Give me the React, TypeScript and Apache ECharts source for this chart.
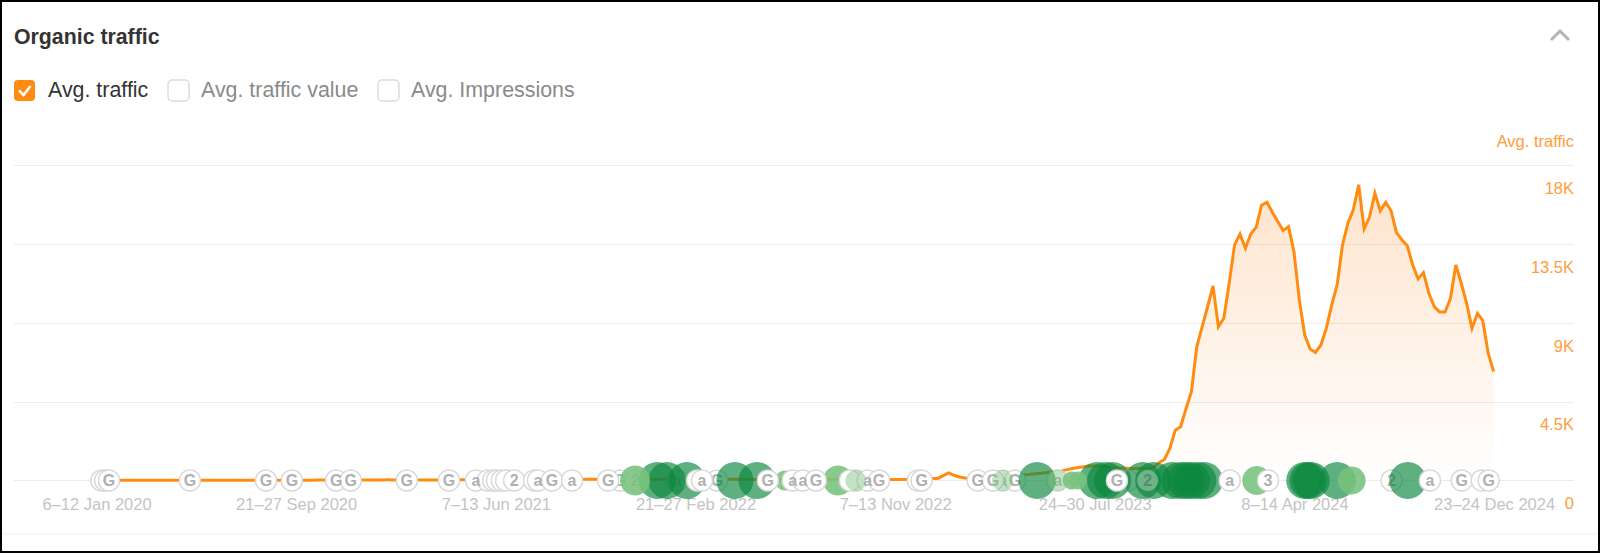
import React, { useEffect, useRef } from "react";
import * as echarts from "echarts";

const FONT = '"Liberation Sans", Arial, sans-serif';
const ORANGE = "#FF8C11";

// Weekly average traffic, week 0 = 6-12 Jan 2020
const traffic2020 = [
  0, 5, 8, 10, 10, 10, 12, 12, 10, 10, 12, 12, 12, 14, 14, 12, 12, 14, 14, 14,
  15, 15, 14, 14, 15, 16, 16, 15, 15, 16, 16, 16, 18, 18, 18, 18, 18, 20, 20, 20,
  20, 22, 22, 22, 20, 20, 22, 22, 24, 24, 26, 26, 30, 34, 36, 34, 30, 28, 26, 28,
];
const traffic2021 = [
  28, 30, 30, 32, 32, 34, 34, 34, 36, 36, 38, 38, 38, 40, 40, 42, 42, 44, 44, 46,
  46, 48, 50, 52, 56, 60, 62, 62, 64, 66, 66, 68, 70, 72, 74, 78, 80, 82, 80, 78,
  76, 74, 72, 74, 76, 78, 80, 78, 74, 70, 66, 62, 60, 60, 62,
];
const traffic2022 = [
  64, 64, 66, 68, 68, 66, 64, 62, 60, 60, 60, 62, 64, 66, 68, 70, 68, 66, 64, 62,
  60, 60, 62, 64, 66, 68, 68, 70, 70, 68, 66, 64, 62, 60, 60, 62, 64, 66, 80, 95,
  110, 120, 280, 440, 300, 200, 140, 130, 130, 140, 140, 150, 170, 190, 220, 250,
];
const traffic2023 = [
  300, 330, 350, 380, 410, 440, 490, 530, 550, 620, 690, 745, 780, 823, 830, 820, 800, 770, 750, 700,
  700, 690, 690, 700, 720, 760, 1010, 1200, 1830, 2880, 3070, 4100, 5070,
];
const trafficPeak1 = [
  7650, 8790, 9935, 11120, 8790, 9270, 11270, 13465, 14090, 13270, 14090, 14470, 15730, 15900, 15330, 14800, 14280, 14510, 13080, 10320,
  8315, 7515, 7320, 7745, 8690, 10030, 11180, 13465, 14700, 15470, 16900,
];
const trafficPeak2 = [
  14380, 15040, 16420, 15410, 15900, 15410, 14170, 13750, 13410, 12320, 11520, 11880, 10700, 9935, 9630, 9630, 10400, 12320, 11270, 10120,
  8690, 9550, 9135, 7270, 6220,
];
const trafficValues = [...traffic2020, ...traffic2021, ...traffic2022, ...traffic2023, ...trafficPeak1, ...trafficPeak2];

const tickWeeks = [0, 37, 74, 111, 148, 185, 222, 259];
const tickLabels = [
  "6–12 Jan 2020", "21–27 Sep 2020", "7–13 Jun 2021", "21–27 Feb 2022",
  "7–13 Nov 2022", "24–30 Jul 2023", "8–14 Apr 2024", "23–24 Dec 2024",
];
const yTicks = [0, 4500, 9000, 13500, 18000];
const yTickLabels = ["0", "4.5K", "9K", "13.5K", "18K"];

// Event markers lying under the green bubbles
const lowerEventWeeks = [97.1, 99.9, 107.7, 115.1, 140.8, 168, 170.3, 178.2, 191.2, 232.7, 240.1];
const lowerEventGlyphs = ["G", "2", "a", "G", "G", "a", "G", "a", "", "G", "2"];
// Event markers lying above them
const upperEventWeeks = [
  1, 1.7, 2.4, 17.4, 31.5, 36.3, 44.5, 47.2, 57.6, 65.4, 70.4, 72.6, 73.6, 74.3, 75.2, 76, 77.5, 81.2, 81.9, 84.5, 88.2, 94.9,
  111.4, 112.3, 124.5, 129.1, 131, 133.4, 139.7, 143, 145.1, 152.3, 153, 163.4, 166.2, 189.2, 210.1, 217.2, 247.2, 253.1, 256.8, 258.1,
];
const upperEventGlyphs = [
  "", "", "G", "G", "G", "G", "G", "G", "G", "G", "a", "", "", "", "", "", "2", "", "a", "G", "a", "G",
  "", "a", "G", "a", "a", "G", "", "a", "G", "", "G", "G", "G", "G", "a", "3", "a", "G", "", "G",
];
const bigBubbleWeeks = [104, 105.8, 109.5, 118.4, 122.5, 174.4, 185.5, 187.1, 188.4, 194, 196, 199.4, 200.9, 202, 203, 204.2, 205.4, 224, 224.6, 225.2, 230, 243.1];
const lightBubbleWeeks = [99.9, 127.7, 137.5, 180.8, 182, 215.1, 232.7];
const lightBubbleSizes = [30, 20, 30, 18, 18, 29, 28];
const faintBubbleWeeks = [140.8, 168, 178.2];
const tintedEventWeeks = [194.9];
const tintedEventGlyphs = ["2"];

const eventSeries = (name: string, weeks: number[], glyphs: string[], z: number) => ({
  name,
  type: "scatter",
  z,
  symbolSize: 21,
  silent: true,
  clip: false,
  itemStyle: { color: "#fff", borderColor: "#d8d8d8", borderWidth: 1.5, opacity: 1 },
  label: {
    show: true,
    position: "inside",
    formatter: (p: any) => p.value[2],
    color: "#b0b0b0",
    fontFamily: FONT,
    fontWeight: "bold",
    fontSize: 16,
  },
  data: weeks.map((w, i) => [w, 0, glyphs[i]]),
});

const bubbleSeries = (name: string, weeks: number[], sizes: number[] | number, color: string, z: number) => ({
  name,
  type: "scatter",
  z,
  silent: true,
  clip: false,
  symbolSize: (_: any, p: any) => (Array.isArray(sizes) ? sizes[p.dataIndex] : sizes),
  itemStyle: { color, opacity: 1 },
  data: weeks.map((w) => [w, 0]),
});

const tintedSeries = {
  ...eventSeries("Events tinted", tintedEventWeeks, tintedEventGlyphs, 7),
  itemStyle: { color: "rgba(130,185,150,0.8)", opacity: 1 },
};
tintedSeries.label = { ...tintedSeries.label, color: "#4f9168" };

const legendText = (text: string, x: number, color: string) => ({
  type: "text",
  x,
  y: 90,
  style: { text, fill: color, font: `21.4px ${FONT}`, textVerticalAlign: "middle" },
});
const emptyBox = (x: number) => ({
  type: "rect",
  shape: { x, y: 80, width: 21, height: 21, r: 4 },
  style: { fill: "#fff", stroke: "#dcdcdc", lineWidth: 1.5 },
});

export default function App() {
  const ref = useRef<HTMLDivElement>(null);
  useEffect(() => {
    const chart = echarts.init(ref.current!, undefined, { renderer: "svg" });
    chart.setOption({
      animation: false,
      backgroundColor: "#fff",
      grid: { left: 14, right: 26, top: 165.5, height: 315, containLabel: false },
      xAxis: {
        type: "value",
        min: -15.2,
        max: 273.9,
        splitLine: { show: false },
        axisLine: { show: false },
        axisTick: { show: false },
        axisLabel: {
          customValues: tickWeeks,
          formatter: (v: number) => tickLabels[tickWeeks.indexOf(v)] ?? "",
          color: "#c4c4c4",
          fontFamily: FONT,
          fontSize: 16.5,
          margin: 15,
          padding: [0, 0, 0, 2],
        },
      },
      yAxis: {
        type: "value",
        position: "right",
        min: 0,
        max: 18000,
        interval: 4500,
        axisLine: { show: false },
        axisTick: { show: false },
        splitLine: { lineStyle: { color: "#ececec", width: 1 } },
        axisLabel: {
          inside: true,
          margin: 0,
          color: "#FF9D3C",
          fontFamily: FONT,
          fontSize: 16.5,
          verticalAlign: "top",
          padding: [14, 0, 0, 0],
          formatter: (v: number) => yTickLabels[yTicks.indexOf(v)] ?? "",
        },
      },
      series: [
        {
          name: "Avg. traffic",
          type: "line",
          z: 2,
          showSymbol: false,
          silent: true,
          lineStyle: { color: ORANGE, width: 3, join: "miter" },
          areaStyle: {
            color: new echarts.graphic.LinearGradient(0, 0, 0, 1, [
              { offset: 0, color: "rgba(250,140,40,0.34)" },
              { offset: 1, color: "rgba(250,140,40,0.0)" },
            ]),
          },
          data: trafficValues.map((v, i) => [i, v]),
        },
        eventSeries("Events below", lowerEventWeeks, lowerEventGlyphs, 3),
        bubbleSeries("Large updates", bigBubbleWeeks, 37, "rgba(12,135,62,0.66)", 4),
        bubbleSeries("Small updates", lightBubbleWeeks, lightBubbleSizes, "rgba(120,195,125,0.88)", 5),
        eventSeries("Events above", upperEventWeeks, upperEventGlyphs, 6),
        bubbleSeries("Faint updates", faintBubbleWeeks, 21, "rgba(120,195,125,0.45)", 7),
        tintedSeries,
      ],
      graphic: [
        { type: "rect", z: 100, shape: { x: 1, y: 1, width: 1598, height: 551 }, style: { fill: "none", stroke: "#000", lineWidth: 2 } },
        { type: "line", shape: { x1: 2, y1: 534, x2: 1598, y2: 534 }, style: { stroke: "#eeeeee", lineWidth: 1 } },
        { type: "text", x: 14, y: 36.5, style: { text: "Organic traffic", fill: "#333", font: `bold 21.3px ${FONT}`, textVerticalAlign: "middle" } },
        { type: "polyline", shape: { points: [[1551, 40], [1560, 31], [1569, 40]] }, style: { stroke: "#b4b4b4", lineWidth: 3, fill: "none" } },
        { type: "rect", shape: { x: 14, y: 80, width: 21, height: 21, r: 4 }, style: { fill: ORANGE } },
        { type: "polyline", shape: { points: [[19, 90.5], [23.5, 95], [30.5, 86]] }, style: { stroke: "#fff", lineWidth: 2.5, fill: "none" } },
        legendText("Avg. traffic", 48, "#333"),
        emptyBox(168),
        legendText("Avg. traffic value", 201, "#8a8a8a"),
        emptyBox(378),
        legendText("Avg. Impressions", 411, "#8a8a8a"),
        { type: "text", x: 1574, y: 141, style: { text: "Avg. traffic", fill: "#FF9D3C", font: `16.5px ${FONT}`, textAlign: "right", textVerticalAlign: "middle" } },
      ],
    });
    return () => chart.dispose();
  }, []);
  return <div ref={ref} style={{ position: "fixed", left: 0, top: 0, width: 1600, height: 557 }} />;
}
